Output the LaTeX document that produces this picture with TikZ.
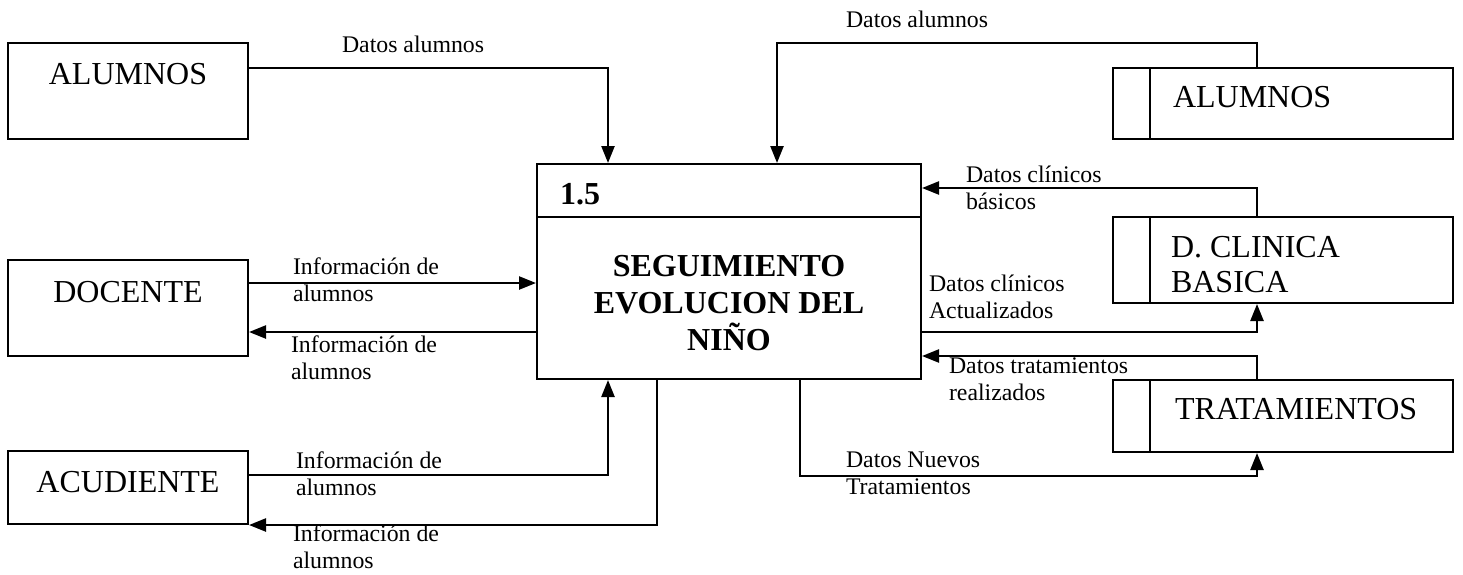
\documentclass[tikz,border=0pt]{standalone}
\usepackage{fontspec}
\setmainfont{Liberation Serif}
\usetikzlibrary{arrows.meta}
\begin{document}
\begin{tikzpicture}[x=1pt,y=-1pt,
  every path/.style={line width=2pt},
  ent/.style={draw,line width=2pt,inner sep=0pt,minimum width=240pt,font=\fontsize{32}{37}\selectfont},
  storebox/.style={draw,line width=2pt,inner sep=0pt,minimum width=340pt},
  storetxt/.style={anchor=base west,inner sep=0pt,align=left,font=\fontsize{32}{35}\selectfont},
  lbl/.style={anchor=base west,inner sep=0pt,align=left,font=\fontsize{23.8}{27}\selectfont},
  flow/.style={line width=2.4pt,-{Triangle[length=17pt,width=13pt]}}]
\useasboundingbox (0,0) rectangle (1463,574);
% external entities
\node[ent,text height=41pt,text depth=55pt] (alum) at (128,91) {ALUMNOS};
\node[ent,text height=42pt,text depth=54pt] (doc) at (128,308) {DOCENTE};
\node[ent,text height=41pt,text depth=32pt] (acu) at (128,487.5) {ACUDIENTE};
% process
\node[draw,line width=2pt,inner sep=0pt,minimum width=384pt,minimum height=215pt] (proc) at (729,271.5) {};
\draw ([yshift=-54pt]proc.north west) -- ([yshift=-54pt]proc.north east);
\node[anchor=base west,inner sep=0pt,font=\fontsize{32}{37}\selectfont\bfseries] (pnum) at (559,204) {1.5};
\node[anchor=base,inner sep=0pt,align=center,font=\fontsize{32}{37}\selectfont\bfseries] (pname) at (729,350) {SEGUIMIENTO\\EVOLUCION DEL\\NIÑO};
% data stores
\node[storebox,minimum height=71pt] (st1) at (1283,103.5) {};
\draw ([xshift=38pt]st1.north west) -- ([xshift=38pt]st1.south west);
\node[storetxt] (st1t) at (1172,107) {ALUMNOS};
\node[storebox,minimum height=86pt] (st2) at (1283,260) {};
\draw ([xshift=38pt]st2.north west) -- ([xshift=38pt]st2.south west);
\node[storetxt] (st2t) at (1170,292) {D. CLINICA\\BASICA};
\node[storebox,minimum height=72pt] (st3) at (1283,416) {};
\draw ([xshift=38pt]st3.north west) -- ([xshift=38pt]st3.south west);
\node[storetxt] (st3t) at (1174,419) {TRATAMIENTOS};
% flows
\draw[flow] ([yshift=23pt]alum.east) -| ([xshift=-121pt]proc.north);
\draw[flow] ([xshift=-26pt]st1.north) -- ++(0,-24) -| ([xshift=48pt]proc.north);
\draw[flow] ([xshift=-26pt]st2.north) |- ([yshift=83.5pt]proc.east);
\draw[flow] ([yshift=-60.5pt]proc.east) -| ([xshift=-26pt]st2.south);
\draw[flow] ([xshift=-26pt]st3.north) |- ([yshift=-84.5pt]proc.east);
\draw[flow] ([xshift=71pt]proc.south) -- ++(0,96) -| ([xshift=-26pt]st3.south);
\draw[flow] ([yshift=25pt]doc.east) coordinate (d1) -- (proc.west |- d1);
\draw[flow] ([yshift=-60.5pt]proc.west) coordinate (d2) -- (doc.east |- d2);
\draw[flow] ([yshift=12.5pt]acu.east) -| ([xshift=-121pt]proc.south);
\draw[flow] ([xshift=-72pt]proc.south) |- (acu.south east);
% labels (base = last line)
\node[lbl] (l1) at (341,52) {Datos alumnos};
\node[lbl] (l2) at (845,27) {Datos alumnos};
\node[lbl] (l3) at (965,209) {Datos clínicos\\básicos};
\node[lbl] (l4) at (928,318) {Datos clínicos\\Actualizados};
\node[lbl] (l5) at (948,400) {Datos tratamientos\\realizados};
\node[lbl] (l6) at (845,494) {Datos Nuevos\\Tratamientos};
\node[lbl] (l7) at (292,301) {Información de\\alumnos};
\node[lbl] (l8) at (290,379) {Información de\\alumnos};
\node[lbl] (l9) at (295,495) {Información de\\alumnos};
\node[lbl] (l10) at (292,568) {Información de\\alumnos};
\end{tikzpicture}
\end{document}
